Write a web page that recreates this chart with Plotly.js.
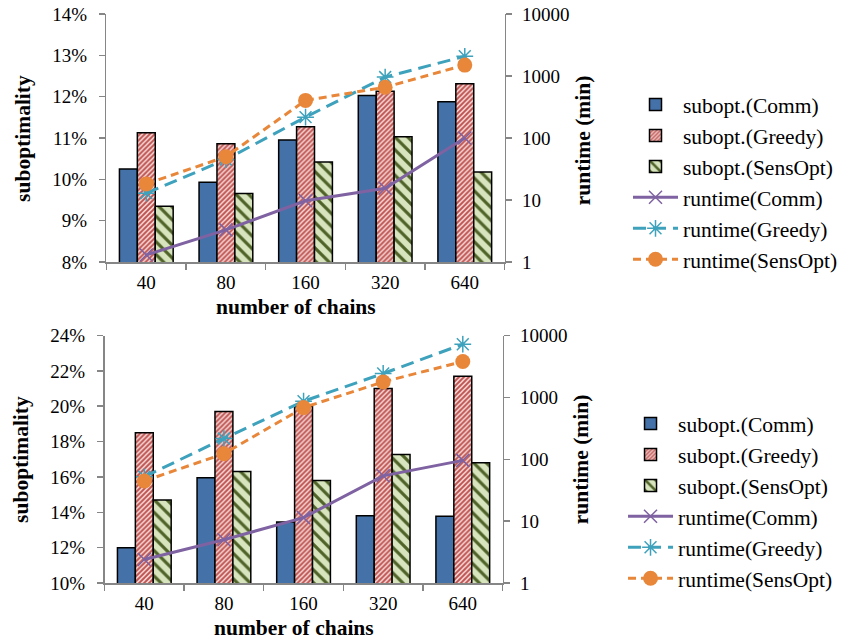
<!DOCTYPE html>
<html>
<head>
<meta charset="utf-8">
<script src="https://cdn.plot.ly/plotly-3.0.1.min.js"></script>
<style>html,body{margin:0;padding:0;background:#fff;}#chart{width:843px;height:640px;}</style>
</head>
<body>
<div id="chart"></div>
<script>
// ---- data ----
const chains = ['40', '80', '160', '320', '640'];

// top chart (suboptimality in %, runtime in minutes)
const topSubComm    = [10.25, 9.93, 10.95, 12.03, 11.88];
const topSubGreedy  = [11.13, 10.86, 11.27, 12.13, 12.31];
const topSubSens    = [9.35, 9.66, 10.42, 11.03, 10.18];
const topRunComm    = [1.3, 3.3, 9.7, 15.5, 100];
const topRunGreedy  = [12.9, 45, 217, 960, 2080];
const topRunSens    = [18.2, 50, 404, 660, 1500];

// bottom chart
const botSubComm    = [12.0, 15.95, 13.45, 13.8, 13.77];
const botSubGreedy  = [18.5, 19.7, 20.0, 21.0, 21.7];
const botSubSens    = [14.7, 16.3, 15.8, 17.27, 16.8];
const botRunComm    = [2.4, 5.0, 11.4, 54, 96];
const botRunGreedy  = [52, 216, 867, 2430, 7230];
const botRunSens    = [44.6, 123, 684, 1780, 3800];

const rightTicks = [1, 10, 100, 1000, 10000];
const topLeftTicks = [8, 9, 10, 11, 12, 13, 14];
const botLeftTicks = [10, 12, 14, 16, 18, 20, 22, 24];

// ---- styles ----
const FONT = '"Liberation Serif", "Times New Roman", serif';
const cComm = '#4472A8', cGreedyFg = '#C0504D', cGreedyBg = '#F4DCDB';
const cSensFg = '#4F6228', cSensBg = '#D7E4BD';
const lComm = '#7F62A1', lGreedy = '#3FA2BC', lSens = '#E8873A';

function makeTraces(xa, yl, yr, leg, sc, sg, ss, rc, rg, rs) {
  return [
    {type:'bar', name:'subopt.(Comm)', x:chains, y:sc, xaxis:xa, yaxis:yl, legend:leg, legendgroup:leg+'a',
     marker:{color:cComm, line:{color:'#000', width:1.5}}},
    {type:'bar', name:'subopt.(Greedy)', x:chains, y:sg, xaxis:xa, yaxis:yl, legend:leg, legendgroup:leg+'b',
     marker:{color:cGreedyBg, line:{color:'#000', width:1.5},
       pattern:{shape:'/', fgcolor:cGreedyFg, bgcolor:cGreedyBg, size:3.5, solidity:0.55}}},
    {type:'bar', name:'subopt.(SensOpt)', x:chains, y:ss, xaxis:xa, yaxis:yl, legend:leg, legendgroup:leg+'c',
     marker:{color:cSensBg, line:{color:'#000', width:1.5},
       pattern:{shape:'\\', fgcolor:cSensFg, bgcolor:cSensBg, size:9, solidity:0.35}}},
    {type:'scatter', mode:'lines+markers', name:'runtime(Comm)', x:chains, y:rc, xaxis:xa, yaxis:yr, legend:leg, legendgroup:leg+'d',
     line:{color:lComm, width:3},
     marker:{symbol:'x-thin-open', size:13, color:lComm, line:{color:lComm, width:1.5}}},
    {type:'scatter', mode:'lines+markers', name:'runtime(Greedy)', x:chains, y:rg, xaxis:xa, yaxis:yr, legend:leg, legendgroup:leg+'e',
     line:{color:lGreedy, width:3, dash:'13px,7px'},
     marker:{symbol:'asterisk-open', size:14, color:lGreedy, line:{color:lGreedy, width:1.5}}},
    {type:'scatter', mode:'lines+markers', name:'runtime(SensOpt)', x:chains, y:rs, xaxis:xa, yaxis:yr, legend:leg, legendgroup:leg+'f',
     line:{color:lSens, width:3, dash:'8px,5px'},
     marker:{symbol:'circle', size:15, color:lSens}}
  ];
}

const data = [].concat(
  makeTraces('x', 'y', 'y2', 'legend', topSubComm, topSubGreedy, topSubSens, topRunComm, topRunGreedy, topRunSens),
  makeTraces('x2', 'y3', 'y4', 'legend2', botSubComm, botSubGreedy, botSubSens, botRunComm, botRunGreedy, botRunSens)
);

const W = 843, H = 640;
const px = v => v / W, py = v => 1 - v / H;
const tickFont = {family: FONT, size: 19, color: '#000'};
const axisCommon = {showgrid:false, zeroline:false, showline:true, linecolor:'#868686', linewidth:1.5,
  ticks:'outside', ticklen:6, tickcolor:'#868686', tickwidth:1.5, tickfont:tickFont};

function xAxis(domain, anchor) {
  return Object.assign({}, axisCommon, {domain:domain, anchor:anchor, type:'category',
    categoryorder:'array', categoryarray:chains, tickson:'boundaries', ticklabelstandoff:3});
}
function leftAxis(domain, anchor, ticks) {
  return Object.assign({}, axisCommon, {domain:domain, anchor:anchor, range:[ticks[0], ticks[ticks.length-1]],
    tickvals:ticks, ticktext:ticks.map(t => t + '%'), ticklabelstandoff:8});
}
function rightAxis(over, anchor) {
  return Object.assign({}, axisCommon, {overlaying:over, anchor:anchor, side:'right', type:'log',
    range:[0, 4], tickvals:rightTicks, ticktext:rightTicks.map(String), ticklabelstandoff:6});
}

const topX = [px(107), px(507)], topY = [py(262), py(14)];
const botX = [px(105), px(505)], botY = [py(583), py(335.5)];

const legendCommon = {xanchor:'left', yanchor:'top', font:{family:FONT, size:21.5, color:'#000'},
  bgcolor:'rgba(0,0,0,0)', itemwidth:45, tracegroupgap:3.2, traceorder:'normal', itemclick:false};

function ann(text, x, y, rot) {
  return {text:'<b>'+text+'</b>', x:x, y:y, xref:'paper', yref:'paper', showarrow:false,
    font:{family:FONT, size:21.5, color:'#000'}, textangle:rot || 0, xanchor:'center', yanchor:'middle'};
}

const layout = {
  width: W, height: H,
  margin: {l:0, r:0, t:0, b:0},
  paper_bgcolor:'#fff', plot_bgcolor:'rgba(0,0,0,0)',
  barmode:'group', bargap:0.325, bargroupgap:0,
  font:{family:FONT, color:'#000'},
  xaxis: xAxis(topX, 'y'),
  yaxis: leftAxis(topY, 'x', topLeftTicks),
  yaxis2: rightAxis('y', 'x'),
  xaxis2: xAxis(botX, 'y3'),
  yaxis3: leftAxis(botY, 'x2', botLeftTicks),
  yaxis4: rightAxis('y3', 'x2'),
  legend: Object.assign({}, legendCommon, {x: px(631), y: py(84)}),
  legend2: Object.assign({}, legendCommon, {x: px(626), y: py(403)}),
  annotations: [
    ann('number of chains', px(297), py(307)),
    ann('suboptimality', px(23), py(138), -90),
    ann('runtime (min)', px(586), py(140), -90),
    ann('number of chains', px(295), py(628)),
    ann('suboptimality', px(21), py(459), -90),
    ann('runtime (min)', px(584), py(459), -90)
  ]
};

Plotly.newPlot('chart', data, layout, {displayModeBar:false, staticPlot:true});
</script>
</body>
</html>
